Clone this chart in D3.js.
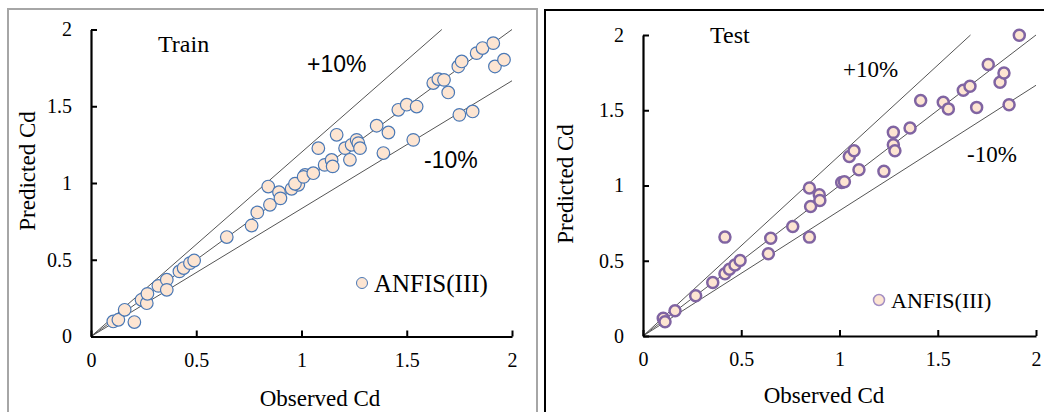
<!DOCTYPE html>
<html>
<head>
<meta charset="utf-8">
<script src="https://cdn.jsdelivr.net/npm/d3@7"></script>
<style>
	body { margin: 0; background: #fff; }
	text { font-family: "Liberation Serif", "Times New Roman", serif; fill: #000; }
</style>
</head>
<body>
<script>

// tick labels shared by both panels
let tickValues = [0, 0.5, 1, 1.5, 2];
let tickLabels = ["0", "0.5", "1", "1.5", "2"];

// reference lines: slope of +10%, 1:1, -10%
let refSlopes = [1.2, 1, 0.833];

// train set (observed, predicted)
let trainObserved = [0.106,0.13,0.16,0.206,0.24,0.265,0.268,0.32,0.36,0.36,0.42,0.44,0.47,0.49,0.645,0.763,0.79,0.85,0.842,0.893,0.9,0.953,0.985,1.017,
	0.969,1.01,1.056,1.08,1.11,1.143,1.148,1.167,1.207,1.23,1.238,1.262,1.27,1.278,1.357,1.389,1.413,1.46,1.5,1.547,1.531,1.626,1.65,1.677,1.697,1.745,1.761,1.75,1.813,1.832,1.86,1.911,1.919,1.962];
let trainPredicted = [0.098,0.109,0.174,0.094,0.239,0.217,0.278,0.33,0.37,0.304,0.424,0.446,0.478,0.495,0.648,0.723,0.808,0.858,0.977,0.94,0.9,0.962,0.988,1.053,
	0.995,1.04,1.064,1.227,1.118,1.15,1.108,1.314,1.227,1.151,1.249,1.281,1.26,1.227,1.373,1.195,1.329,1.477,1.51,1.498,1.281,1.651,1.677,1.672,1.59,1.759,1.792,1.444,1.466,1.846,1.879,1.911,1.759,1.803];

// test set (observed, predicted)
let testObserved = [0.103,0.112,0.163,0.268,0.355,0.417,0.417,0.44,0.468,0.494,0.638,0.65,0.762,0.847,0.847,0.853,0.897,0.9,1.011,1.025,1.05,1.074,1.099,1.226,1.274,1.274,1.282,1.359,1.413,1.528,1.554,1.63,1.664,1.698,1.757,1.817,1.837,1.863,1.915];
let testPredicted = [0.118,0.095,0.168,0.268,0.355,0.413,0.657,0.444,0.472,0.501,0.546,0.65,0.727,0.657,0.983,0.861,0.938,0.9,1.02,1.025,1.193,1.231,1.105,1.094,1.353,1.271,1.231,1.382,1.564,1.553,1.509,1.633,1.659,1.519,1.804,1.686,1.748,1.537,1.999];

let svg = d3.select("body").append("svg")
	.attr("width", 1044)
	.attr("height", 412);

// panel frames
svg.append("rect")
	.attr("x", 8).attr("y", 9)
	.attr("width", 529).attr("height", 420)
	.attr("fill", "none")
	.attr("stroke", "#a6a6a6")
	.attr("stroke-width", 2);

svg.append("rect")
	.attr("x", 545).attr("y", 10)
	.attr("width", 520).attr("height", 420)
	.attr("fill", "none")
	.attr("stroke", "#000")
	.attr("stroke-width", 2);

let panels = [
	{
		name: "Train", obs: trainObserved, pred: trainPredicted,
		x0: 91, x1: 512, y0: 336.5, y1: 29.5,
		title: [158, 52], plus: [307, 72], minus: [424, 168], sansLabels: true,
		yTitle: [35, 171], xTitle: [320, 406],
		stroke: "#4a78b5", strokeWidth: 1.2, r: 6.3,
		legend: { cx: 362, cy: 283, tx: 374, ty: 292, size: 25, stroke: "#4a78b5", sw: 1 }
	},
	{
		name: "Test", obs: testObserved, pred: testPredicted,
		x0: 643, x1: 1036, y0: 336, y1: 35,
		title: [710, 43], plus: [843, 77], minus: [967, 162], sansLabels: false,
		yTitle: [573, 184], xTitle: [824, 403],
		stroke: "#8064a2", strokeWidth: 2.5, r: 5.5,
		legend: { cx: 879, cy: 300, tx: 891, ty: 308, size: 22, stroke: "#a48fc4", sw: 1.5 }
	}
];

panels.forEach(p => {
	let x = d3.scaleLinear().domain([0, 2]).range([p.x0, p.x1]);
	let y = d3.scaleLinear().domain([0, 2]).range([p.y0, p.y1]);

	// reference lines
	refSlopes.forEach(s => {
		let xEnd = Math.min(2, 2 / s);
		svg.append("line")
			.attr("x1", x(0)).attr("y1", y(0))
			.attr("x2", x(xEnd)).attr("y2", y(xEnd * s))
			.attr("stroke", "#555")
			.attr("stroke-width", 1);
	});

	// axes, ticks pointing inwards
	let xAxis = svg.append("g")
		.attr("transform", "translate(0," + p.y0 + ")")
		.call(d3.axisBottom(x).tickValues(tickValues).tickSizeInner(-6).tickSizeOuter(0).tickFormat((d, i) => tickLabels[i]));
	let yAxis = svg.append("g")
		.attr("transform", "translate(" + p.x0 + ",0)")
		.call(d3.axisLeft(y).tickValues(tickValues).tickSizeInner(-6).tickSizeOuter(0).tickFormat((d, i) => tickLabels[i]));

	[xAxis, yAxis].forEach(a => {
		a.select(".domain").attr("stroke", "#000").attr("stroke-width", 2.2);
		a.selectAll(".tick line").attr("stroke", "#000").attr("stroke-width", 2);
		a.selectAll(".tick text")
			.style("font-family", "Liberation Serif")
			.style("font-size", "20px")
			.attr("fill", "#000");
	});
	xAxis.selectAll(".tick text").attr("y", 16);
	yAxis.selectAll(".tick text").attr("x", -19);

	// points
	svg.append("g").selectAll("circle")
		.data(p.obs)
		.enter()
		.append("circle")
		.attr("cx", d => x(d))
		.attr("cy", (d, i) => y(p.pred[i]))
		.attr("r", p.r)
		.attr("fill", "#fde5d2")
		.attr("stroke", p.stroke)
		.attr("stroke-width", p.strokeWidth);

	// panel title
	svg.append("text")
		.attr("x", p.title[0]).attr("y", p.title[1])
		.style("font-size", "24px")
		.text(p.name);

	// +/-10% labels
	let lblFont = p.sansLabels ? "Liberation Sans" : "Liberation Serif";
	svg.append("text")
		.attr("x", p.plus[0]).attr("y", p.plus[1])
		.style("font-family", lblFont)
		.style("font-size", "23px")
		.text("+10%");
	svg.append("text")
		.attr("x", p.minus[0]).attr("y", p.minus[1])
		.style("font-family", lblFont)
		.style("font-size", "23px")
		.text("-10%");

	// axis titles
	svg.append("text")
		.attr("transform", "translate(" + p.yTitle[0] + "," + p.yTitle[1] + ") rotate(-90)")
		.attr("text-anchor", "middle")
		.style("font-size", "23px")
		.text("Predicted Cd");
	svg.append("text")
		.attr("x", p.xTitle[0]).attr("y", p.xTitle[1])
		.attr("text-anchor", "middle")
		.style("font-size", "23px")
		.text("Observed Cd");

	// legend
	svg.append("circle")
		.attr("cx", p.legend.cx).attr("cy", p.legend.cy)
		.attr("r", 5.5)
		.attr("fill", "#fde5d2")
		.attr("stroke", p.legend.stroke)
		.attr("stroke-width", p.legend.sw);
	svg.append("text")
		.attr("x", p.legend.tx).attr("y", p.legend.ty)
		.style("font-size", p.legend.size + "px")
		.text("ANFIS(III)");
});

</script>
</body>
</html>
